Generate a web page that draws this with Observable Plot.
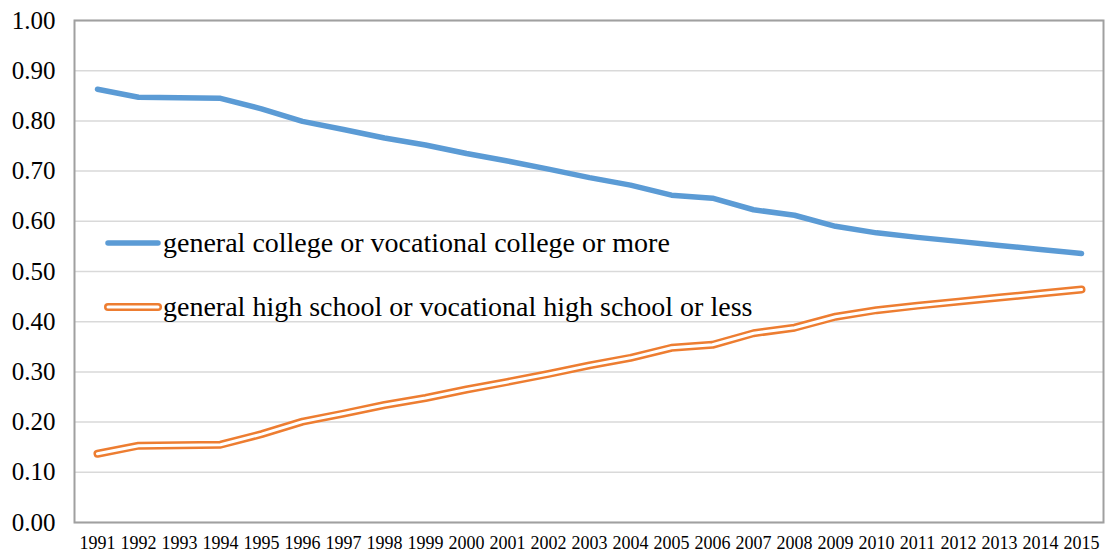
<!DOCTYPE html>
<html>
<head>
<meta charset="utf-8">
<script src="https://cdn.jsdelivr.net/npm/d3@7"></script>
<script src="https://cdn.jsdelivr.net/npm/@observablehq/plot@0.6"></script>
<style>
  html, body { margin: 0; padding: 0; background: #fff; }
  #chart svg { display: block; background: #fff; }
  #chart svg, #chart svg text { font-family: "Liberation Serif", "Times New Roman", serif !important; fill: #000; }
</style>
</head>
<body>
<div id="chart"></div>
<script>
// Shares by education level, 1991–2015
const years = ["1991","1992","1993","1994","1995","1996","1997","1998","1999","2000","2001","2002","2003",
               "2004","2005","2006","2007","2008","2009","2010","2011","2012","2013","2014","2015"];
const college = [0.863,0.847,0.846,0.845,0.824,0.799,0.783,0.766,0.752,0.735,0.720,0.704,0.687,
                 0.672,0.652,0.646,0.623,0.612,0.590,0.577,0.568,0.560,0.552,0.544,0.536];
const highSchool = [0.137,0.153,0.154,0.155,0.176,0.201,0.217,0.234,0.248,0.265,0.280,0.296,0.313,
                    0.328,0.348,0.354,0.377,0.388,0.410,0.423,0.432,0.440,0.448,0.456,0.464];
const seriesNames = ["general college or vocational college or more",
                     "general high school or vocational high school or less"];
const yTicks = [0,0.1,0.2,0.3,0.4,0.5,0.6,0.7,0.8,0.9,1.0];

const blue = "#5B9BD5", orange = "#ED7D31";
const collegeRows = years.map((y, i) => ({year: y, value: college[i]}));
const hsRows = years.map((y, i) => ({year: y, value: highSchool[i]}));

const chart = Plot.plot({
  width: 1107,
  height: 553,
  marginLeft: 74,
  marginRight: 4,
  marginTop: 20,
  marginBottom: 31,
  x: {type: "point", domain: years, padding: 0.5, label: null},
  y: {domain: [0, 1], label: null},
  marks: [
    Plot.gridY(yTicks, {stroke: "#d9d9d9", strokeOpacity: 1, strokeWidth: 1.5}),
    Plot.frame({stroke: "#a0a0a0", strokeWidth: 2}),
    Plot.axisY(yTicks, {tickSize: 0, tickPadding: 19, tickFormat: d3.format(".2f"), fontSize: 25, label: null}),
    Plot.axisX({tickSize: 0, tickPadding: 14, fontSize: 18, label: null}),
    Plot.line(collegeRows, {x: "year", y: "value", stroke: blue, strokeWidth: 5.5, strokeLinecap: "round", strokeLinejoin: "round"}),
    Plot.line(hsRows, {x: "year", y: "value", stroke: orange, strokeWidth: 8, strokeLinecap: "round", strokeLinejoin: "round"}),
    Plot.line(hsRows, {x: "year", y: "value", stroke: "#fff", strokeWidth: 3, strokeLinecap: "round", strokeLinejoin: "round"})
  ]
});

// Legend drawn inside the plot area, left side
const svg = d3.select(chart);
const legend = svg.append("g").attr("font-size", 28).attr("text-anchor", "start");
const entries = [
  {name: seriesNames[0], color: blue, y: 243, double: false},
  {name: seriesNames[1], color: orange, y: 307, double: true}
];
entries.forEach(e => {
  legend.append("line").attr("x1", 108).attr("x2", 158).attr("y1", e.y).attr("y2", e.y)
    .attr("stroke", e.color).attr("stroke-width", e.double ? 8 : 5.5).attr("stroke-linecap", "round");
  if (e.double) {
    legend.append("line").attr("x1", 108).attr("x2", 158).attr("y1", e.y).attr("y2", e.y)
      .attr("stroke", "#fff").attr("stroke-width", 3).attr("stroke-linecap", "round");
  }
  legend.append("text").attr("x", 163).attr("y", e.y).attr("dy", "0.32em")
    .attr("text-anchor", "start").text(e.name);
});

document.getElementById("chart").appendChild(chart);
</script>
</body>
</html>
